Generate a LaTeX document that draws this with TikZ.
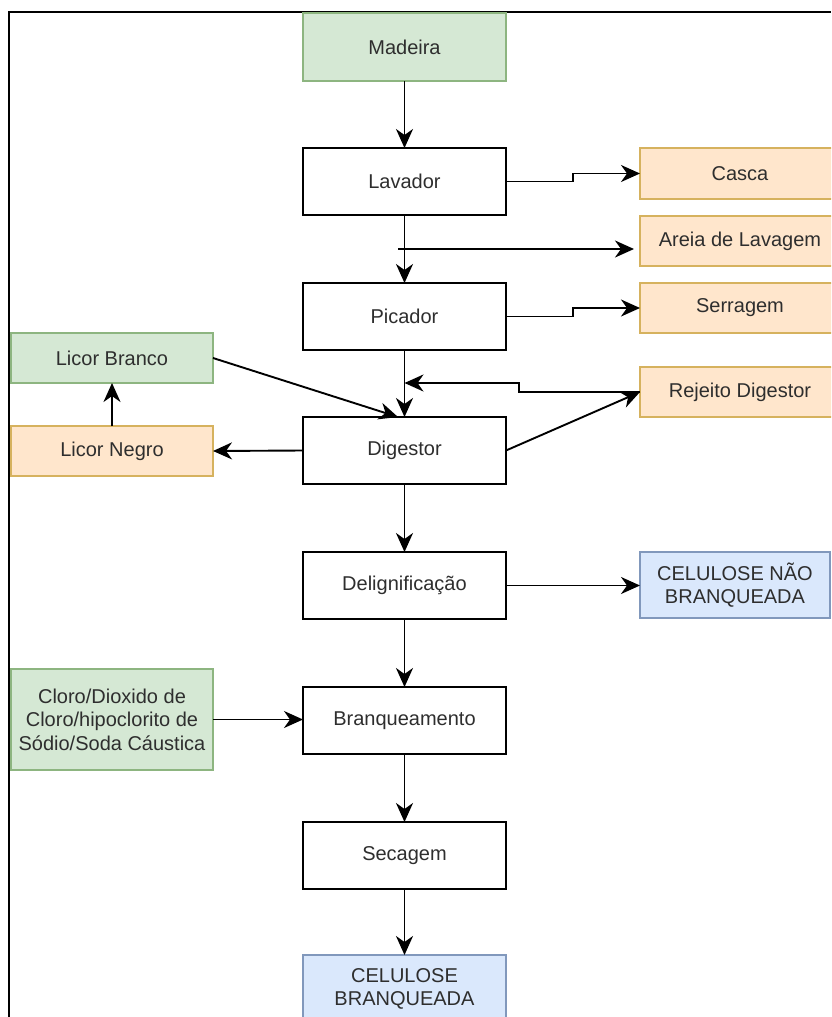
\documentclass[tikz,border=0pt]{standalone}
\usepackage{fontspec}
\setmainfont{Liberation Sans}
\usetikzlibrary{arrows.meta}
\definecolor{gfill}{HTML}{D5E8D4}
\definecolor{gdraw}{HTML}{8DB580}
\definecolor{ofill}{HTML}{FFE6CC}
\definecolor{odraw}{HTML}{D6B25E}
\definecolor{bfill}{HTML}{DAE8FC}
\definecolor{bdraw}{HTML}{8198BC}
\definecolor{txt}{HTML}{2E2E2E}
\tikzset{
  base/.style={rectangle, inner sep=0pt, outer sep=0pt, align=center, text=txt,
    font=\fontsize{20}{23.5}\selectfont},
  proc/.style={base, draw=black, line width=1.7pt, fill=white, minimum width=203pt, minimum height=67pt},
  green/.style={base, draw=gdraw, line width=1.2pt, fill=gfill},
  orange/.style={base, draw=odraw, line width=1.2pt, fill=ofill},
  blue/.style={base, draw=bdraw, line width=1.2pt, fill=bfill},
  side/.style={minimum width=200pt, minimum height=50pt},
  left/.style={minimum width=202pt, minimum height=50pt},
  arr/.style={draw=black, line width=1.9pt, arrows={-Stealth[length=19pt,width=17pt,inset=6pt]}},
}
\begin{document}
\begin{tikzpicture}[x=1pt,y=-1pt]
\useasboundingbox (0,0) rectangle (831,1017);
\clip (0,0) rectangle (831,1017);
\fill[white] (0,0) rectangle (831,1017);
\draw[line width=2pt] (9,1017) -- (9,12) -- (831,12);

\node[green, minimum width=203pt, minimum height=68pt] (madeira) at (404.5,47) {Madeira};
\node[proc] (lavador) at (404.5,181.5) {Lavador};
\node[orange, side, minimum height=51pt] (casca) at (740,173.5) {Casca};
\node[orange, side] (areia) at (740,241) {Areia de Lavagem};
\node[proc] (picador) at (404.5,316.5) {Picador};
\node[orange, side] (serragem) at (740,308) {Serragem};
\node[green, left] (licorb) at (112,358) {Licor Branco};
\node[orange, side] (rejeito) at (740,392) {Rejeito Digestor};
\node[orange, left] (licorn) at (112,451) {Licor Negro};
\node[proc] (digestor) at (404.5,450.5) {Digestor};
\node[proc] (delig) at (404.5,585.5) {Delignificação};
\node[blue, minimum width=190pt, minimum height=66pt] (celnb) at (735,585) {CELULOSE NÃO\\BRANQUEADA};
\node[green, minimum width=202pt, minimum height=101pt] (cloro) at (112,719.5) {Cloro/Dioxido de\\Cloro/hipoclorito de\\Sódio/Soda Cáustica};
\node[proc] (branq) at (404.5,720.5) {Branqueamento};
\node[proc] (secagem) at (404.5,855.5) {Secagem};
\node[blue, minimum width=203pt, minimum height=68pt] (celb) at (404.5,989) {CELULOSE\\BRANQUEADA};

\coordinate (areiastart) at (398,249);
\coordinate (rjend) at (404.5,383);
\coordinate (lbend) at (398,417);

\draw[arr] (madeira) -- (lavador);
\draw[arr] (lavador) -- (picador);
\draw[arr] (picador) -- (digestor);
\draw[arr] (digestor) -- (delig);
\draw[arr] (delig) -- (branq);
\draw[arr] (branq) -- (secagem);
\draw[arr] (secagem) -- (celb);

\draw[arr] (lavador.east) -- ++(67,0) |- (casca.west);
\draw[arr, shorten >=6pt] (areiastart) -- (areiastart -| areia.west);
\draw[arr] (picador.east) -- ++(67,0) |- (serragem.west);
\draw[arr] (rejeito.west) -- ++(-121,0) |- (rjend);
\draw[arr] (digestor.east) -- (rejeito.west);
\draw[arr] (licorb.east) -- (lbend);
\draw[arr] (digestor.west) -- (licorn.east);
\draw[arr] (licorn.north) -- (licorb.south);
\draw[arr] (delig.east) -- (delig.east -| celnb.west);
\draw[arr] (cloro.east) -- (cloro.east -| branq.west);
\end{tikzpicture}
\end{document}
